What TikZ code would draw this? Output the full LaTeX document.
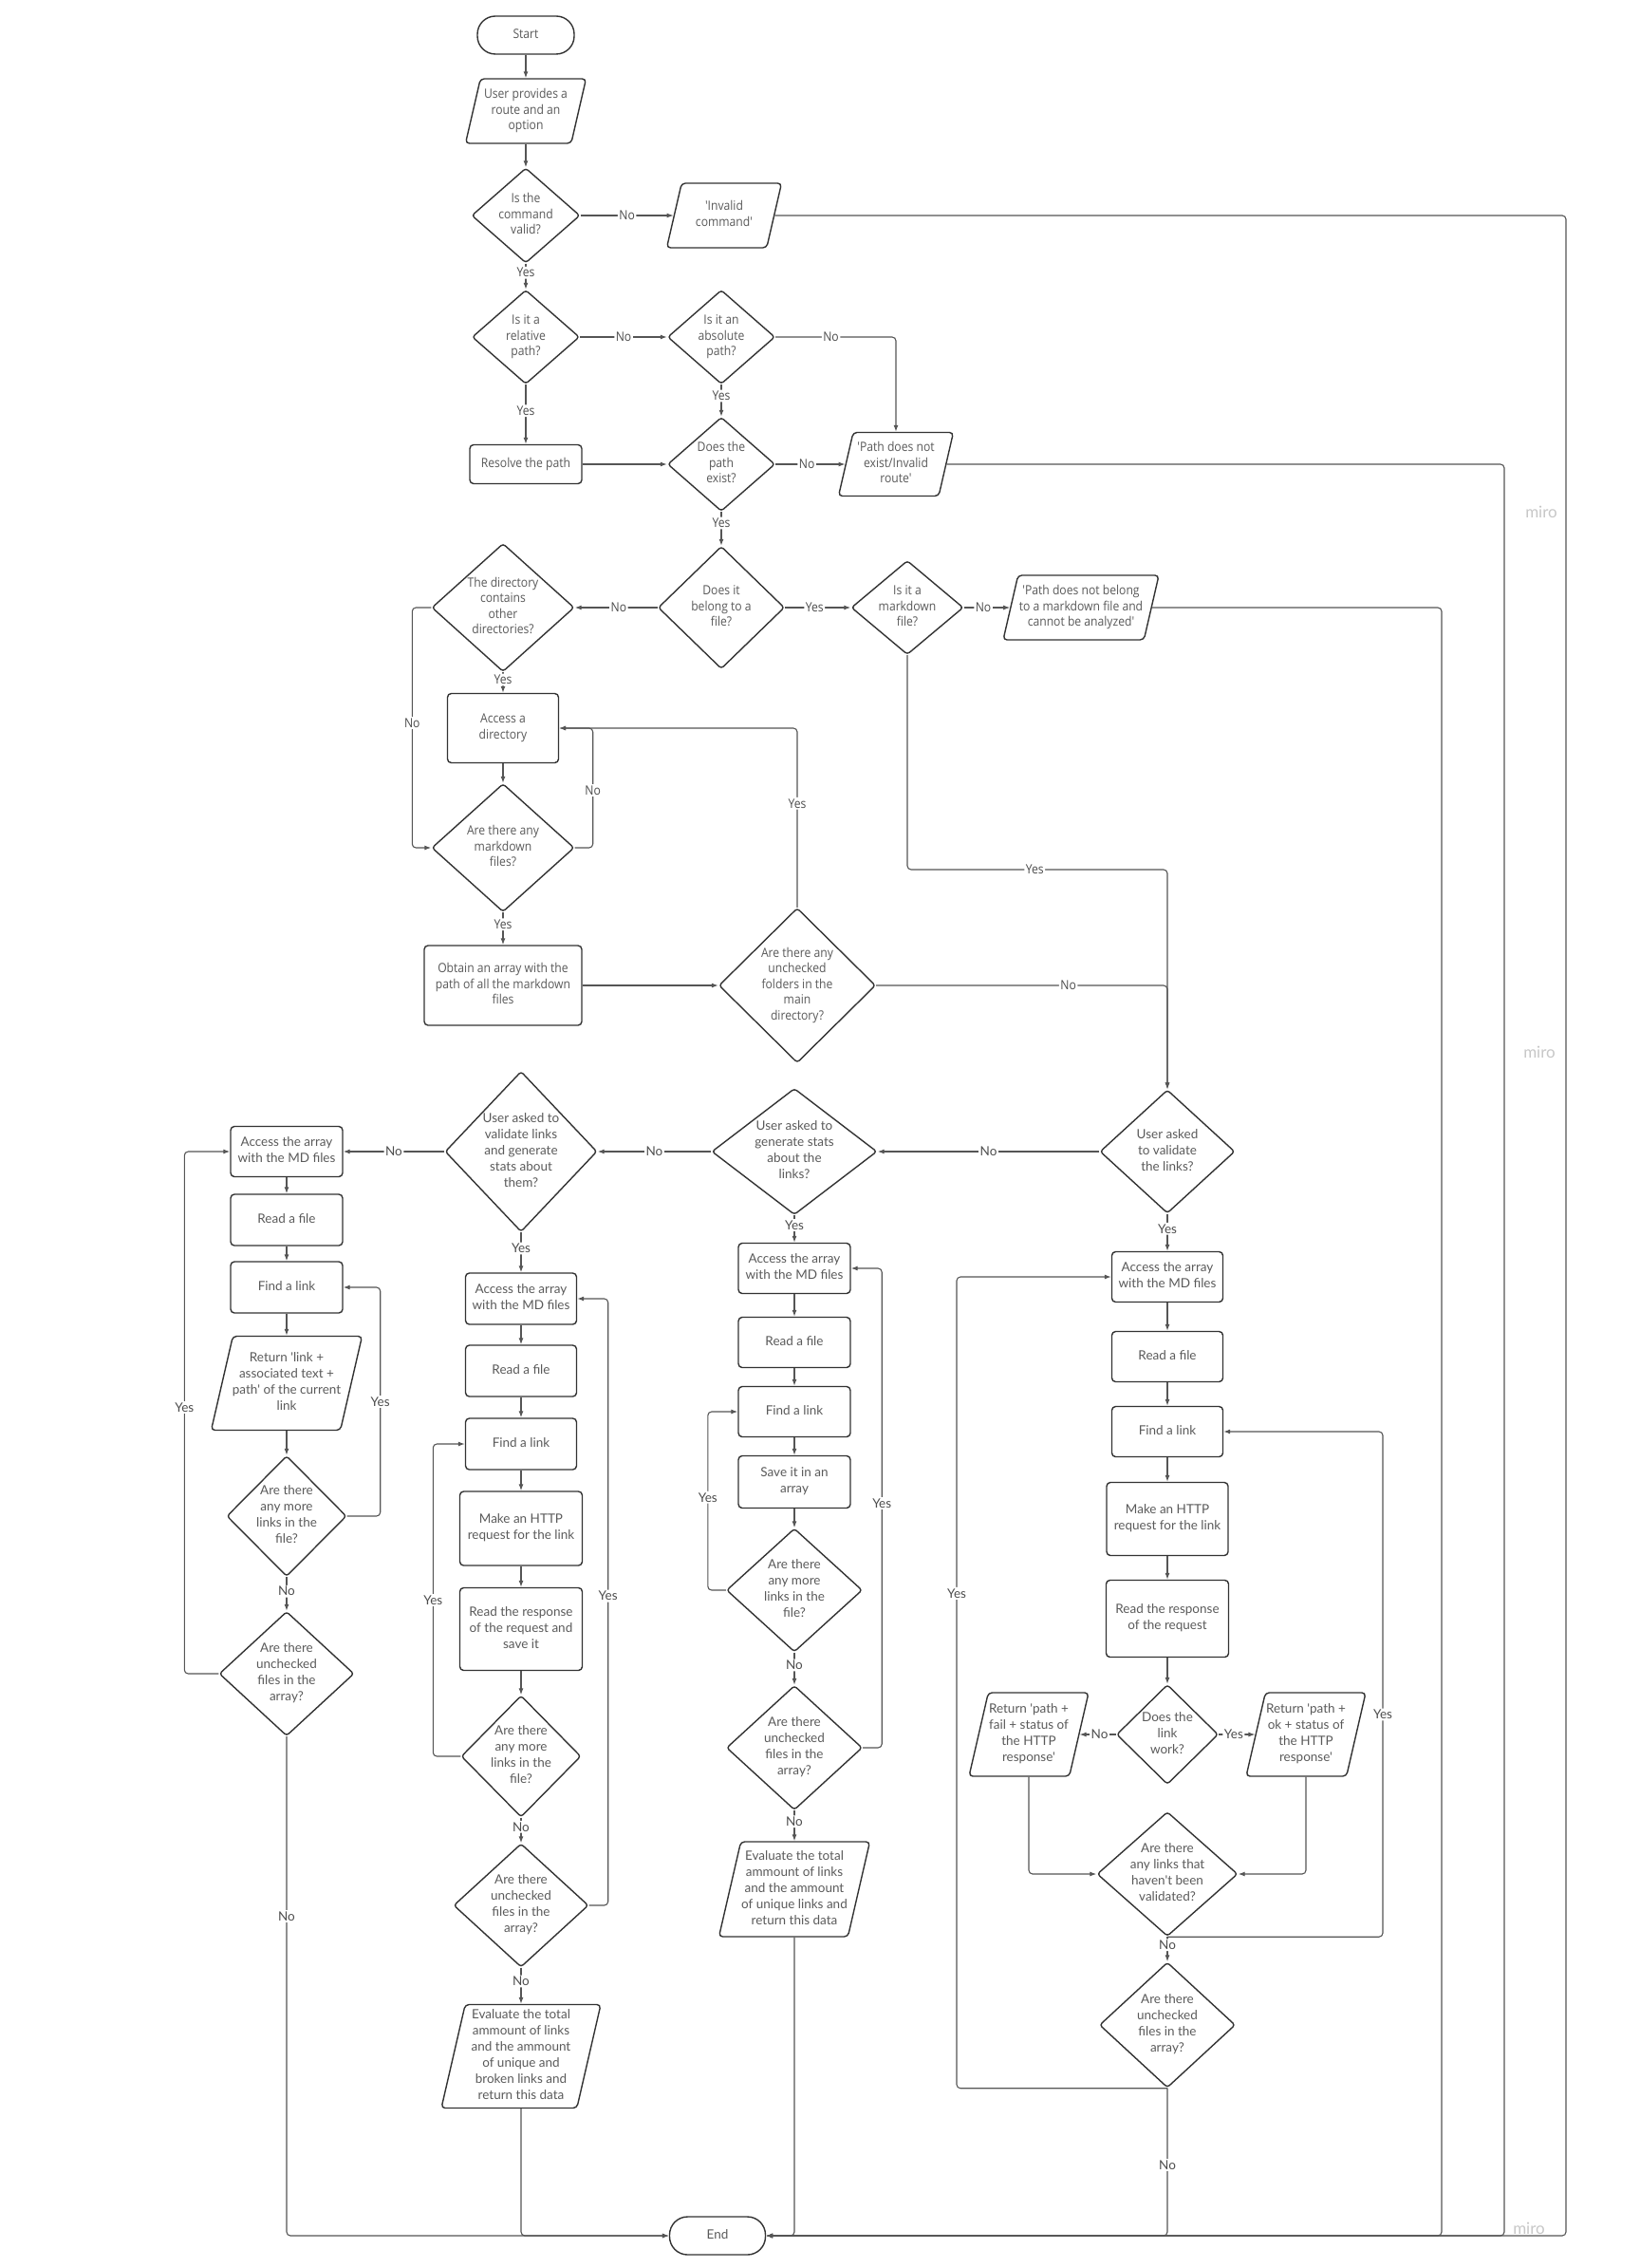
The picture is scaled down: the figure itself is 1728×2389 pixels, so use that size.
\documentclass[tikz,border=0pt]{standalone}
\usepackage{fontspec}
\newfontfamily\upf[FakeStretch=0.9]{Open Sans}
\newfontfamily\lof{Lato}
\usetikzlibrary{shapes.geometric,arrows.meta,calc}
\definecolor{txtc}{HTML}{5A5A5A}
\definecolor{edgec}{HTML}{333333}
\definecolor{linec}{HTML}{555555}
\newcommand\tx[1]{\smash{\raisebox{-0.25em}{\makebox[0pt]{\begin{tabular}{@{}c@{}}#1\end{tabular}}}}}
\tikzset{
  base/.style={draw=edgec, line width=1.4pt, text=txtc, inner sep=0pt},
  up/.style={font=\upf\fontsize{13.5}{16.5}\selectfont},
  lo/.style={font=\lof\fontsize{13.5}{17}\selectfont},
  term/.style={base, rectangle, rounded corners=19pt, minimum width=#1pt, minimum height=40pt},
  proc/.style 2 args={base, rectangle, rounded corners=4pt, minimum width=#1pt, minimum height=#2pt},
  dec/.style 2 args={base, diamond, rounded corners=3pt, minimum width=#1pt, minimum height=#2pt},
  io/.style 2 args={base, trapezium, trapezium left angle=77, trapezium right angle=103,
    rounded corners=4pt, inner ysep={#2/2}, inner xsep={(#1-2*0.2309*#2)/2}},
  conn/.style={draw=linec, line width=1.1pt, rounded corners=4pt, -{Latex[length=7pt,width=5pt]}},
  lbl/.style={fill=white, text=txtc!85!black, inner sep=1.5pt},
  wm/.style={text=black!22, font=\lof\fontsize{17}{17}\selectfont, inner sep=0pt}
}
\begin{document}
\begin{tikzpicture}[x=1pt,y=-1pt]
\fill[white] (0,0) rectangle (1728,2389);
\useasboundingbox (0,0) rectangle (1728,2389);

\coordinate (xA) at (1650,0);
\coordinate (xB) at (1585,0);
\coordinate (xC) at (1519,0);
\coordinate (xr) at (1457,0);
\coordinate (xl) at (1008,0);
\coordinate (yj) at (0,916);

% ---------------- upper part ----------------
\begin{scope}[every node/.append style={up}]
\node[term=102] (start) at (554,37) {\tx{Start}};
\node[io={127}{68}] (user) at (554,117) {\tx{User provides a\\route and an\\option}};
\node[dec={114}{100}] (cmd) at (554,227) {\tx{Is the\\command\\valid?}};
\node[io={121}{68}] (inv) at (763,227) {\tx{'Invalid\\command'}};
\node[dec={113}{99}] (rel) at (554,355) {\tx{Is it a\\relative\\path?}};
\node[dec={113}{99}] (abs) at (760,355) {\tx{Is it an\\absolute\\path?}};
\node[proc={118}{41}] (res) at (554,489) {\tx{Resolve the path}};
\node[dec={113}{99}] (pex) at (760,489) {\tx{Does the\\path\\exist?}};
\node[io={121}{67}] (pne) at (944,489) {\tx{'Path does not\\exist/Invalid\\route'}};
\node[dec={133}{129}] (bel) at (760,640) {\tx{Does it\\belong to a\\file?}};
\node[dec={150}{135}] (dir) at (530,640) {\tx{The directory\\contains\\other\\directories?}};
\node[dec={118}{99}] (ismd) at (956,640) {\tx{Is it a\\markdown\\file?}};
\node[io={164}{68}] (pnb) at (1139,640) {\tx{'Path does not belong\\to a markdown file and\\cannot be analyzed'}};
\node[proc={117}{73}] (accd) at (530,767) {\tx{Access a\\directory}};
\node[dec={150}{135}] (mdq) at (530,893) {\tx{Are there any\\markdown\\files?}};
\node[proc={166}{84}] (obt) at (530,1038) {\tx{Obtain an array with the\\path of all the markdown\\files}};
\node[dec={165}{163}] (fold) at (840,1038) {\tx{Are there any\\unchecked\\folders in the\\main\\directory?}};
\end{scope}

% ---------------- lower part ----------------
\begin{scope}[every node/.append style={lo}]
\node[dec={142}{130}] (val) at (1230,1213) {\tx{User asked\\to validate\\the links?}};
\node[dec={174}{133}] (stats) at (837,1213) {\tx{User asked to\\generate stats\\about the\\links?}};
\node[dec={160}{169}] (vg) at (549,1213) {\tx{User asked to\\validate links\\and generate\\stats about\\them?}};

\node[proc={118}{53}] (aL) at (302,1213) {\tx{Access the array\\with the MD files}};
\node[proc={118}{54}] (rL) at (302,1285) {\tx{Read a file}};
\node[proc={118}{54}] (fL) at (302,1356) {\tx{Find a link}};
\node[io={159}{99}] (retL) at (302,1457) {\tx{Return 'link +\\associated text +\\path' of the current\\link}};
\node[dec={126}{127}] (mL) at (302,1597) {\tx{Are there\\any more\\links in the\\file?}};
\node[dec={142}{131}] (uL) at (302,1763) {\tx{Are there\\unchecked\\files in the\\array?}};

\node[proc={117}{54}] (aV) at (549,1368) {\tx{Access the array\\with the MD files}};
\node[proc={117}{54}] (rV) at (549,1444) {\tx{Read a file}};
\node[proc={117}{54}] (fV) at (549,1521) {\tx{Find a link}};
\node[proc={129}{78}] (hV) at (549,1610) {\tx{Make an HTTP\\request for the link}};
\node[proc={129}{87}] (sV) at (549,1716) {\tx{Read the response\\of the request and\\save it}};
\node[dec={126}{128}] (mV) at (549,1850) {\tx{Are there\\any more\\links in the\\file?}};
\node[dec={142}{130}] (uV) at (549,2007) {\tx{Are there\\unchecked\\files in the\\array?}};
\node[io={168}{109}] (eV) at (549,2166) {\tx{Evaluate the total\\ammount of links\\and the ammount\\of unique and\\broken links and\\return this data}};

\node[proc={118}{53}] (aS) at (837,1336) {\tx{Access the array\\with the MD files}};
\node[proc={118}{53}] (rS) at (837,1414) {\tx{Read a file}};
\node[proc={118}{53}] (fS) at (837,1487) {\tx{Find a link}};
\node[proc={118}{55}] (svS) at (837,1561) {\tx{Save it in an\\array}};
\node[dec={143}{130}] (mS) at (837,1675) {\tx{Are there\\any more\\links in the\\file?}};
\node[dec={143}{131}] (uS) at (837,1841) {\tx{Are there\\unchecked\\files in the\\array?}};
\node[io={159}{100}] (eS) at (837,1990) {\tx{Evaluate the total\\ammount of links\\and the ammount\\of unique links and\\return this data}};

\node[proc={117}{53}] (aR) at (1230,1345) {\tx{Access the array\\with the MD files}};
\node[proc={117}{53}] (rR) at (1230,1429) {\tx{Read a file}};
\node[proc={117}{53}] (fR) at (1230,1508) {\tx{Find a link}};
\node[proc={128}{77}] (hR) at (1230,1600) {\tx{Make an HTTP\\request for the link}};
\node[proc={129}{81}] (pR) at (1230,1705) {\tx{Read the response\\of the request}};
\node[dec={107}{105}] (wk) at (1230,1827) {\tx{Does the\\link\\work?}};
\node[io={126}{88}] (fail) at (1084,1827) {\tx{Return 'path +\\fail + status of\\the HTTP\\response'}};
\node[io={126}{88}] (ok) at (1376,1827) {\tx{Return 'path +\\ok + status of\\the HTTP\\response'}};
\node[dec={148}{131}] (vd) at (1230,1974) {\tx{Are there\\any links that\\haven't been\\validated?}};
\node[dec={143}{132}] (uR) at (1230,2133) {\tx{Are there\\unchecked\\files in the\\array?}};

\node[term=101] (end) at (756,2355) {\tx{End}};

\node[wm] (wm1) at (1624,539) {miro};
\node[wm] (wm2) at (1622,1108) {miro};
\node[wm] (wm3) at (1611,2347) {miro};
\end{scope}

% ---------------- upper connectors ----------------
\begin{scope}[every node/.append style={up}]
\draw[conn] (start) -- (user);
\draw[conn] (user) -- (cmd);
\draw[conn] (cmd) -- node[lbl]{No} (inv);
\draw[conn] (cmd) -- node[lbl,pos=0.35]{Yes} (rel);
\draw[conn] (rel) -- node[lbl]{No} (abs);
\draw[conn] (abs.east) -| node[lbl,pos=0.23]{No} (pne.north);
\draw[conn] (abs) -- node[lbl,pos=0.35]{Yes} (pex);
\draw[conn] (rel) -- node[lbl,pos=0.44]{Yes} (res);
\draw[conn] (res) -- (pex);
\draw[conn] (pex) -- node[lbl,pos=0.45]{No} (pne);
\draw[conn] (pex) -- node[lbl,pos=0.33]{Yes} (bel);
\draw[conn] (bel) -- node[lbl,pos=0.47]{No} (dir);
\draw[conn] (bel) -- node[lbl,pos=0.45]{Yes} (ismd);
\draw[conn] (ismd) -- node[lbl,pos=0.42]{No} (pnb);
\draw[conn] (ismd.south) |- node[lbl,pos=0.745]{Yes} (yj -| val.north) -- (val.north);
\draw[conn] (dir) -- node[lbl,pos=0.36]{Yes} (accd);
\draw[conn] (dir.west) -- ++(-20,0) |- node[lbl,pos=0.24]{No} (mdq.west);
\draw[conn] (accd) -- (mdq);
\draw[conn] (mdq.east) -- ++(19,0) |- node[lbl,pos=0.24]{No} (accd.east);
\draw[conn] (mdq) -- node[lbl,pos=0.37]{Yes} (obt);
\draw[conn] (obt) -- (fold);
\draw[conn] (fold.north) |- node[lbl,pos=0.29]{Yes} (accd.east);
\draw[conn] (fold.east) -| node[lbl,pos=0.33]{No} (val.north);
\draw[conn] (inv.east) -| (xA |- end.east) -- (end.east);
\draw[conn] (pne.east) -| (xB |- end.east) -- (end.east);
\draw[conn] (pnb.east) -| (xC |- end.east) -- (end.east);
\end{scope}

% ---------------- lower connectors ----------------
\begin{scope}[every node/.append style={lo}]
\draw[conn] (val) -- node[lbl]{No} (stats);
\draw[conn] (stats) -- node[lbl]{No} (vg);
\draw[conn] (vg) -- node[lbl]{No} (aL);
\draw[conn] (val) -- node[lbl,pos=0.4]{Yes} (aR);
\draw[conn] (vg) -- node[lbl,pos=0.4]{Yes} (aV);
\draw[conn] (stats) -- node[lbl,pos=0.36]{Yes} (aS);

\draw[conn] (aL) -- (rL);
\draw[conn] (rL) -- (fL);
\draw[conn] (fL) -- (retL);
\draw[conn] (retL) -- (mL);
\draw[conn] (mL.east) -- ++(35,0) |- node[lbl,pos=0.25]{Yes} (fL.east);
\draw[conn] (mL) -- node[lbl,pos=0.42]{No} (uL);
\draw[conn] (uL.west) -- ++(-36,0) |- node[lbl,pos=0.255]{Yes} (aL.west);
\draw[conn] (uL.south) |- node[lbl,pos=0.18]{No} (end.west);

\draw[conn] (aV) -- (rV);
\draw[conn] (rV) -- (fV);
\draw[conn] (fV) -- (hV);
\draw[conn] (hV) -- (sV);
\draw[conn] (sV) -- (mV);
\draw[conn] (mV.west) -- ++(-29,0) |- node[lbl,pos=0.25]{Yes} (fV.west);
\draw[conn] (mV) -- node[lbl,pos=0.36]{No} (uV);
\draw[conn] (uV.east) -- ++(20,0) |- node[lbl,pos=0.255]{Yes} (aV.east);
\draw[conn] (uV) -- node[lbl,pos=0.375]{No} (eV);
\draw[conn] (eV.south) |- (end.west);

\draw[conn] (aS) -- (rS);
\draw[conn] (rS) -- (fS);
\draw[conn] (fS) -- (svS);
\draw[conn] (svS) -- (mS);
\draw[conn] (mS.west) -- ++(-19,0) |- node[lbl,pos=0.26]{Yes} (fS.west);
\draw[conn] (mS) -- node[lbl,pos=0.39]{No} (uS);
\draw[conn] (uS.east) -- ++(20,0) |- node[lbl,pos=0.255]{Yes} (aS.east);
\draw[conn] (uS) -- node[lbl,pos=0.36]{No} (eS);
\draw[conn] (eS.south) |- (end.east);

\draw[conn] (aR) -- (rR);
\draw[conn] (rR) -- (fR);
\draw[conn] (fR) -- (hR);
\draw[conn] (hR) -- (pR);
\draw[conn] (pR) -- (wk);
\draw[conn] (wk) -- node[lbl,pos=0.45]{No} (fail);
\draw[conn] (wk) -- node[lbl,pos=0.41]{Yes} (ok);
\draw[conn] (fail.south) |- (vd.west);
\draw[conn] (ok.south) |- (vd.east);
\draw[conn] (vd.south) -- (vd.south -| xr) |- node[lbl,pos=0.22]{Yes} (fR.east);
\draw[conn] (vd) -- node[lbl,pos=0.33]{No} (uR);
\draw[conn] (uR.south) -- (uR.south -| xl) |- node[lbl,pos=0.305]{Yes} (aR.west);
\draw[conn] (uR.south) |- node[lbl,pos=0.26]{No} (end.east);
\end{scope}
\end{tikzpicture}
\end{document}
